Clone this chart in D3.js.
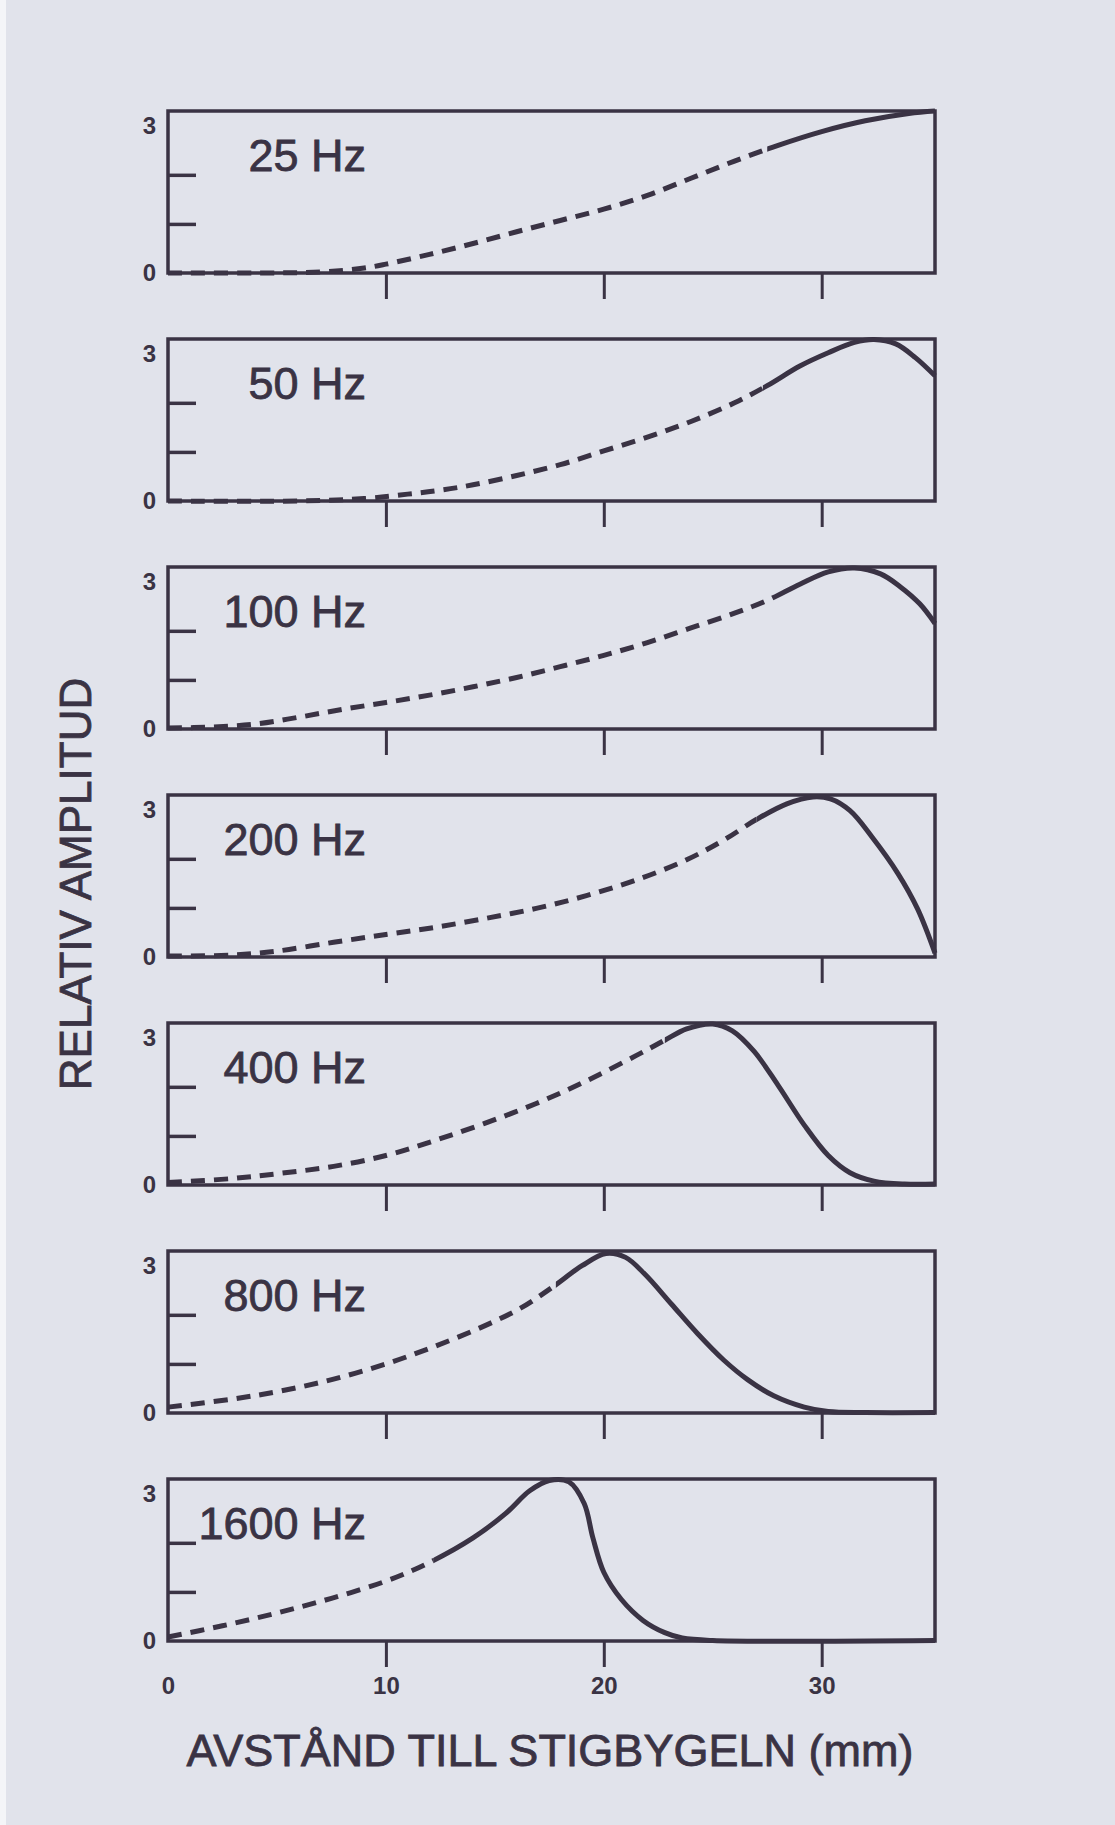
<!DOCTYPE html>
<html>
<head>
<meta charset="utf-8">
<script src="https://cdn.jsdelivr.net/npm/d3@7.9.0/dist/d3.min.js"></script>
<style>
  body { margin: 0; background: #e1e3eb; }
  svg { display: block; }
  text { font-family: "Liberation Sans", Arial, sans-serif; fill: #3a3344; }
</style>
</head>
<body>
<svg id="chart" width="1115" height="1825"></svg>
<script>
// panel labels
const freqLabels = ['25 Hz', '50 Hz', '100 Hz', '200 Hz', '400 Hz', '800 Hz', '1600 Hz'];

// amplitude curves, [distance mm, relative amplitude]
const amp25 = [[0,0],[4,0],[7,0.02],[9,0.1],[10,0.18],[12,0.38],[14,0.6],[16,0.84],[18,1.07],[20,1.3],[22,1.58],[24,1.93],[26,2.28],[28,2.6],[30,2.88],[32,3.1],[34,3.25],[35.2,3.3]];
const amp50 = [[0,0],[6,0],[9,0.05],[11,0.14],[12.5,0.22],[14,0.33],[16,0.52],[18,0.74],[20,1.02],[22,1.3],[24,1.62],[26,2.0],[27.5,2.35],[29,2.75],[30.3,3.02],[31.5,3.23],[32.4,3.29],[33.4,3.2],[34.3,2.92],[35.2,2.55]];
const amp100 = [[0,0.02],[2,0.04],[4,0.1],[6,0.24],[8,0.4],[10,0.54],[12,0.69],[14,0.86],[16,1.05],[18,1.27],[20,1.5],[22,1.76],[24,2.06],[26,2.36],[27.5,2.62],[29,2.95],[30.3,3.2],[31.5,3.28],[32.7,3.16],[33.6,2.9],[34.5,2.55],[35.2,2.15]];
const amp200 = [[0,0.02],[3,0.04],[5,0.12],[7.6,0.3],[10,0.46],[12.2,0.6],[14.5,0.78],[16.9,0.99],[19.2,1.25],[21.5,1.57],[23.8,1.98],[25.5,2.38],[27,2.8],[28.4,3.12],[29.6,3.26],[30.4,3.22],[31.3,2.98],[32.3,2.45],[33.5,1.7],[34.4,0.98],[35.2,0.08]];
const amp400 = [[0,0.05],[2.9,0.13],[5.2,0.24],[7.6,0.38],[10,0.6],[12.2,0.9],[14.5,1.25],[16.9,1.66],[19.2,2.12],[21.5,2.64],[22.8,2.95],[23.8,3.18],[25,3.28],[25.9,3.14],[26.9,2.72],[28,2.03],[29.2,1.22],[30.3,0.6],[31.3,0.25],[32.4,0.08],[33.8,0.02],[35.2,0.02]];
const amp800 = [[0,0.12],[2.9,0.28],[5.2,0.45],[7.6,0.69],[10,1.0],[12.2,1.35],[14.5,1.77],[16.2,2.14],[17.6,2.55],[19,3.0],[20.1,3.25],[21,3.17],[21.9,2.82],[23.1,2.22],[24.3,1.62],[25.5,1.08],[26.6,0.68],[27.8,0.35],[29.2,0.12],[30.3,0.03],[32,0.01],[35.2,0.01]];
const amp1600 = [[0,0.08],[2.5,0.31],[5,0.57],[7.5,0.87],[10,1.22],[12,1.6],[14,2.1],[15.5,2.6],[16.6,3.06],[17.5,3.27],[18.4,3.24],[19.1,2.8],[19.5,2.1],[20,1.4],[20.8,0.85],[21.8,0.42],[22.8,0.17],[23.6,0.06],[25,0.01],[35.2,0.01]];
const curves = [amp25, amp50, amp100, amp200, amp400, amp800, amp1600];

// where the dashed part turns into a solid line (mm)
const solidFrom = [27.5, 27.3, 28, 27, 22.8, 17.8, 12.2];

const xTicks = [0, 10, 20, 30];
const yTicks = [1, 2];
const yLabels = [0, 3];

const ink = '#3a3344';
const svg = d3.select('#chart');

// white edge of the photo
svg.append('rect').attr('x', 0).attr('y', 0).attr('width', 6).attr('height', 1825).attr('fill', '#f4f5f8');

const left = 168, right = 935, panelH = 162;
const x = d3.scaleLinear().domain([0, 35.2]).range([left, right]);
const panelTop = d3.scaleLinear().domain([0, freqLabels.length - 1]).range([111, 1479]);

const line = d3.line()
    .x(d => x(d[0]))
    .y(d => d.y)
    .curve(d3.curveCatmullRom.alpha(0.5));

curves.forEach((pts, i) => {
    const top = panelTop(i);
    const y = d3.scaleLinear().domain([0, 3.3]).range([top + panelH, top]);
    const g = svg.append('g');

    // frame
    g.append('rect')
        .attr('x', left).attr('y', top)
        .attr('width', right - left).attr('height', panelH)
        .attr('fill', 'none').attr('stroke', ink).attr('stroke-width', 3.5);

    // ticks under the frame
    const xAxis = g.append('g')
        .attr('transform', `translate(0,${top + panelH})`)
        .call(d3.axisBottom(x).tickValues(xTicks).tickSize(26).tickPadding(10)
            .tickFormat(i === curves.length - 1 ? d3.format('d') : ''));
    xAxis.select('.domain').remove();
    xAxis.selectAll('line').attr('stroke', ink).attr('stroke-width', 3)
        .filter(d => d === 0).remove();
    xAxis.selectAll('text').attr('font-size', 24).attr('font-weight', 'bold').style('fill', ink);

    // inner ticks at 1 and 2
    const yAxis = g.append('g')
        .attr('transform', `translate(${left},0)`)
        .call(d3.axisRight(y).tickValues(yTicks).tickSize(28).tickFormat(''));
    yAxis.select('.domain').remove();
    yAxis.selectAll('line').attr('stroke', ink).attr('stroke-width', 3.5);

    // 0 and 3 labels
    const yLab = g.append('g')
        .attr('transform', `translate(${left},0)`)
        .call(d3.axisLeft(y).tickValues(yLabels).tickSize(0).tickPadding(12).tickFormat(d3.format('d')));
    yLab.select('.domain').remove();
    yLab.selectAll('text').attr('font-size', 24).attr('font-weight', 'bold').style('fill', ink);

    // frequency label
    g.append('text')
        .attr('x', 366).attr('y', top + 60)
        .attr('text-anchor', 'end')
        .attr('font-size', 45)
        .attr('stroke', ink).attr('stroke-width', 0.8)
        .text(freqLabels[i]);

    // curve: dashed then solid, split by clipping
    const xs = x(solidFrom[i]);
    const cd = `clipD${i}`, cs = `clipS${i}`;
    g.append('clipPath').attr('id', cd).append('rect')
        .attr('x', 0).attr('y', top - 10).attr('width', xs).attr('height', panelH + 20);
    g.append('clipPath').attr('id', cs).append('rect')
        .attr('x', xs).attr('y', top - 10).attr('width', 1115 - xs).attr('height', panelH + 20);

    const data = pts.map(p => Object.assign([p[0], p[1]], { y: y(Math.max(0, p[1])) }));
    g.append('path')
        .attr('d', line(data))
        .attr('clip-path', `url(#${cd})`)
        .attr('fill', 'none').attr('stroke', ink).attr('stroke-width', 5)
        .attr('stroke-dasharray', '14 9');
    g.append('path')
        .attr('d', line(data))
        .attr('clip-path', `url(#${cs})`)
        .attr('fill', 'none').attr('stroke', ink).attr('stroke-width', 5);
});

// axis titles
svg.append('text')
    .attr('x', 550).attr('y', 1766)
    .attr('text-anchor', 'middle')
    .attr('font-size', 45)
    .attr('stroke', ink).attr('stroke-width', 0.8)
    .text('AVSTÅND TILL STIGBYGELN (mm)');

svg.append('text')
    .attr('transform', 'translate(91,884) rotate(-90)')
    .attr('text-anchor', 'middle')
    .attr('font-size', 44)
    .attr('stroke', ink).attr('stroke-width', 0.8)
    .text('RELATIV AMPLITUD');
</script>
</body>
</html>
